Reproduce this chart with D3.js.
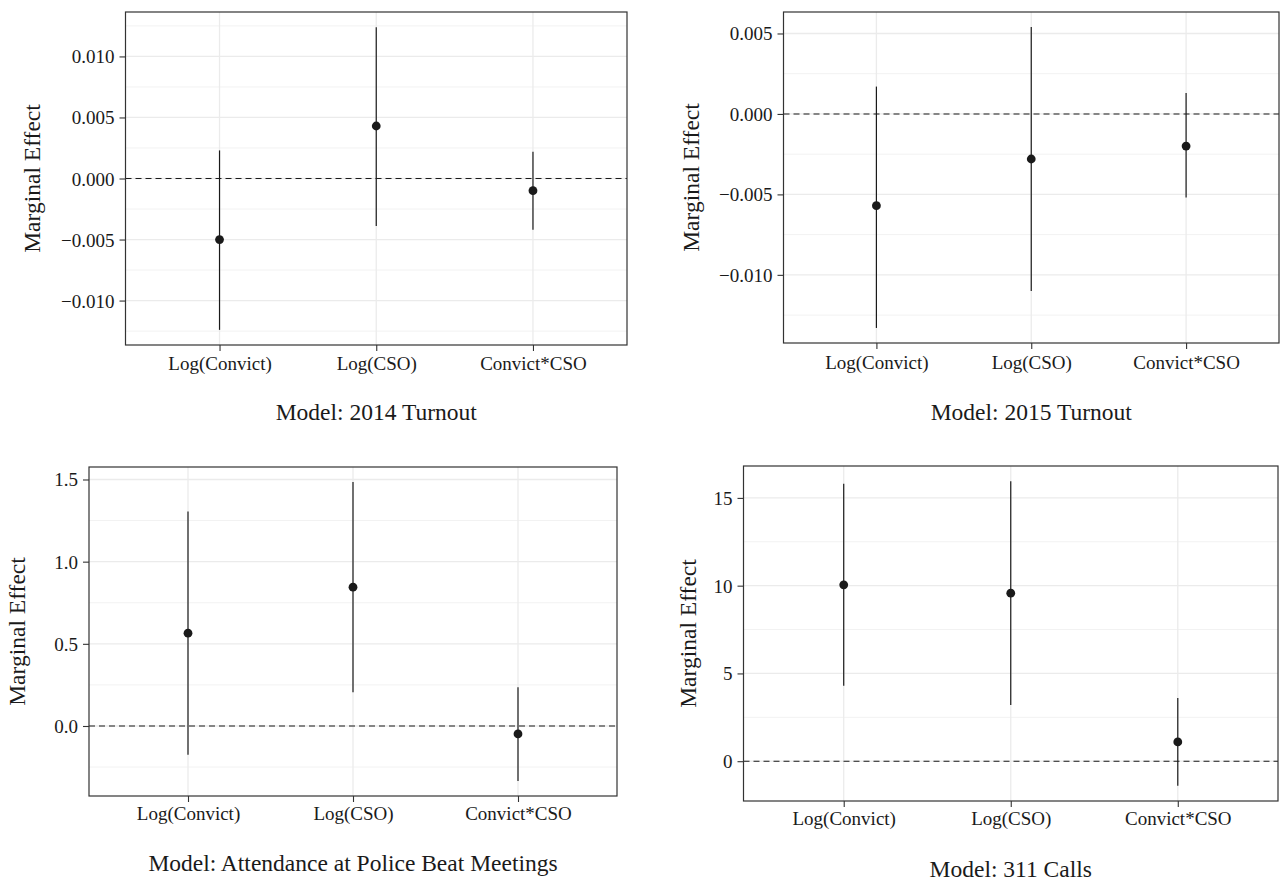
<!DOCTYPE html>
<html>
<head>
<meta charset="utf-8">
<script src="https://cdn.jsdelivr.net/npm/d3@7"></script>
<style>
  html, body { margin: 0; padding: 0; background: #fff; }
  svg { display: block; }
  text { font-family: "Liberation Serif", "DejaVu Serif", serif; fill: #1a1a1a; }
</style>
</head>
<body>
<svg id="chart" width="1282" height="882"></svg>
<script>
// ---- Data ----
const categories = ["Log(Convict)", "Log(CSO)", "Convict*CSO"];

const titles = ["Model: 2014 Turnout", "Model: 2015 Turnout",
                "Model: Attendance at Police Beat Meetings", "Model: 311 Calls"];

const est2014 = [-0.0050, 0.0043, -0.0010];
const lo2014  = [-0.0124, -0.0039, -0.0042];
const hi2014  = [0.0023, 0.0124, 0.0022];
const ticks2014 = [-0.010, -0.005, 0.000, 0.005, 0.010];

const est2015 = [-0.0057, -0.0028, -0.0020];
const lo2015  = [-0.0133, -0.0110, -0.0052];
const hi2015  = [0.0017, 0.0054, 0.0013];
const ticks2015 = [-0.010, -0.005, 0.000, 0.005];

const estBeat = [0.565, 0.845, -0.048];
const loBeat  = [-0.175, 0.205, -0.335];
const hiBeat  = [1.305, 1.485, 0.235];
const ticksBeat = [0.0, 0.5, 1.0, 1.5];

const est311 = [10.05, 9.57, 1.10];
const lo311  = [4.30, 3.20, -1.40];
const hi311  = [15.80, 15.95, 3.60];
const ticks311 = [0, 5, 10, 15];

const panels = [
  { est: est2014, lo: lo2014, hi: hi2014, ticks: ticks2014, fmt: d3.format(".3f"), title: titles[0],
    box: { l: 125.5, r: 627, t: 12, b: 345 }, ytitleX: 32, catY: 363, capY: 412 },
  { est: est2015, lo: lo2015, hi: hi2015, ticks: ticks2015, fmt: d3.format(".3f"), title: titles[1],
    box: { l: 783.5, r: 1279, t: 12, b: 343 }, ytitleX: 691, catY: 362, capY: 412 },
  { est: estBeat, lo: loBeat, hi: hiBeat, ticks: ticksBeat, fmt: d3.format(".1f"), title: titles[2],
    box: { l: 89, r: 617, t: 467, b: 796 }, ytitleX: 17, catY: 813, capY: 863 },
  { est: est311, lo: lo311, hi: hi311, ticks: ticks311, fmt: d3.format("d"), title: titles[3],
    box: { l: 743.5, r: 1278, t: 466, b: 801 }, ytitleX: 688, catY: 818, capY: 869 }
];

const svg = d3.select("#chart");

panels.forEach(p => {
  const { l, r, t, b } = p.box;
  const g = svg.append("g");

  // ggplot-like expansion: 5% continuous, 0.6 discrete
  const ymin = d3.min(p.lo), ymax = d3.max(p.hi);
  const pad = (ymax - ymin) * 0.05;
  const y = d3.scaleLinear().domain([ymin - pad, ymax + pad]).range([b, t]);
  const x = d3.scalePoint().domain(categories).range([l, r]).padding(0.6);

  // minor gridlines (midpoints between major ticks)
  const step = p.ticks[1] - p.ticks[0];
  const minor = [];
  for (let v = p.ticks[0] - step / 2; v <= ymax + pad; v += step) {
    if (v >= ymin - pad) minor.push(v);
  }
  g.selectAll(".minor").data(minor).enter().append("line")
    .attr("x1", l).attr("x2", r)
    .attr("y1", d => y(d)).attr("y2", d => y(d))
    .attr("stroke", "#f2f2f2").attr("stroke-width", 1);

  // major gridlines
  g.selectAll(".major").data(p.ticks).enter().append("line")
    .attr("x1", l).attr("x2", r)
    .attr("y1", d => y(d)).attr("y2", d => y(d))
    .attr("stroke", "#ebebeb").attr("stroke-width", 1.3);
  g.selectAll(".vmajor").data(categories).enter().append("line")
    .attr("x1", d => x(d)).attr("x2", d => x(d))
    .attr("y1", t).attr("y2", b)
    .attr("stroke", "#ebebeb").attr("stroke-width", 1.3);

  // zero reference line
  g.append("line")
    .attr("x1", l).attr("x2", r)
    .attr("y1", y(0)).attr("y2", y(0))
    .attr("stroke", "#1a1a1a").attr("stroke-width", 1.1)
    .attr("stroke-dasharray", "6,4");

  // error bars
  const idx = d3.range(categories.length);
  g.selectAll(".ci").data(idx).enter().append("line")
    .attr("x1", i => x(categories[i])).attr("x2", i => x(categories[i]))
    .attr("y1", i => y(p.lo[i])).attr("y2", i => y(p.hi[i]))
    .attr("stroke", "#1a1a1a").attr("stroke-width", 1.2);

  // points
  g.selectAll(".pt").data(idx).enter().append("circle")
    .attr("cx", i => x(categories[i])).attr("cy", i => y(p.est[i]))
    .attr("r", 4.4).attr("fill", "#1a1a1a");

  // panel border
  g.append("rect")
    .attr("x", l).attr("y", t).attr("width", r - l).attr("height", b - t)
    .attr("fill", "none").attr("stroke", "#333").attr("stroke-width", 1.2);

  // y axis
  const yAxis = d3.axisLeft(y).tickValues(p.ticks).tickFormat(d => p.fmt(d).replace("-", "\u2212"))
    .tickSize(6).tickPadding(5);
  const ya = g.append("g").attr("transform", `translate(${l},0)`).call(yAxis);
  ya.select(".domain").remove();
  ya.selectAll("line").attr("stroke", "#333").attr("stroke-width", 1.1);
  ya.selectAll("text").style("font-size", "19px").attr("fill", "#1a1a1a")
    .style("font-family", "'Liberation Serif', serif")
    .attr("dy", null).attr("dominant-baseline", "central");

  // x axis
  const xAxis = d3.axisBottom(x).tickSize(6).tickPadding(4);
  const xa = g.append("g").attr("transform", `translate(0,${b})`).call(xAxis);
  xa.select(".domain").remove();
  xa.selectAll("line").attr("stroke", "#333").attr("stroke-width", 1.1);
  xa.selectAll("text").style("font-size", "19px").attr("fill", "#1a1a1a")
    .style("font-family", "'Liberation Serif', serif")
    .attr("dy", null).attr("y", p.catY - b)
    .attr("dominant-baseline", "central");

  // y title
  g.append("text")
    .attr("transform", `translate(${p.ytitleX},${(t + b) / 2}) rotate(-90)`)
    .attr("text-anchor", "middle").attr("dominant-baseline", "central")
    .style("font-size", "23.5px").text("Marginal Effect");

  // caption
  g.append("text")
    .attr("x", (l + r) / 2).attr("y", p.capY)
    .attr("text-anchor", "middle").attr("dominant-baseline", "central")
    .style("font-size", "23.5px").text(p.title);
});
</script>
</body>
</html>
